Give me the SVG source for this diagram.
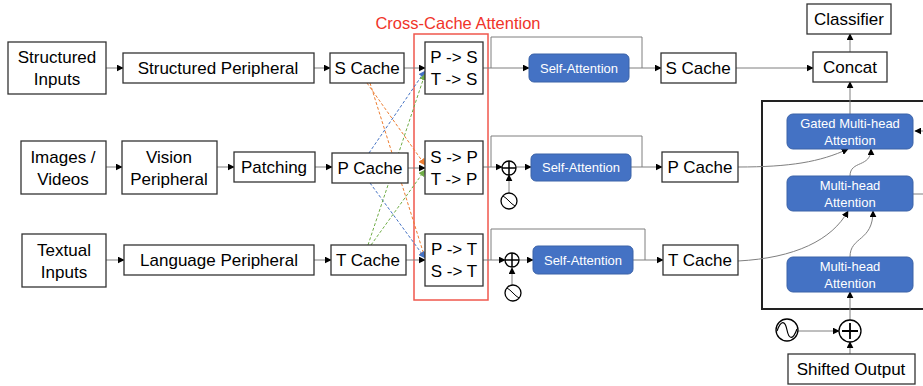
<svg xmlns="http://www.w3.org/2000/svg" width="923" height="386" viewBox="0 0 923 386">
<defs>
<marker id="ah" viewBox="0 0 10 10" refX="9" refY="5" markerWidth="7" markerHeight="7" orient="auto" markerUnits="userSpaceOnUse"><path d="M0,0 L10,5 L0,10 z" fill="#000"/></marker>
<marker id="aho" viewBox="0 0 10 10" refX="9" refY="5" markerWidth="7" markerHeight="7" orient="auto" markerUnits="userSpaceOnUse"><path d="M0,0 L10,5 L0,10 z" fill="#ED7D31"/></marker>
<marker id="ahb" viewBox="0 0 10 10" refX="9" refY="5" markerWidth="7" markerHeight="7" orient="auto" markerUnits="userSpaceOnUse"><path d="M0,0 L10,5 L0,10 z" fill="#4472C4"/></marker>
<marker id="ahg" viewBox="0 0 10 10" refX="9" refY="5" markerWidth="7" markerHeight="7" orient="auto" markerUnits="userSpaceOnUse"><path d="M0,0 L10,5 L0,10 z" fill="#70AD47"/></marker>
<style>
.box{fill:#fff;stroke:#333;stroke-width:1.3}
.sa{fill:#4472C4;stroke:#3A62A8;stroke-width:1}
.t{font-family:"Liberation Sans",Arial,sans-serif;font-size:17px;fill:#000;text-anchor:middle}
.tw{font-family:"Liberation Sans",Arial,sans-serif;font-size:13px;fill:#fff;text-anchor:middle}
.ln{fill:none;stroke:#7F7F7F;stroke-width:1}
.ar{fill:none;stroke:#7F7F7F;stroke-width:1;marker-end:url(#ah)}
.dso{fill:none;stroke:#ED7D31;stroke-width:1;stroke-dasharray:3,2;marker-end:url(#aho)}
.dsb{fill:none;stroke:#4472C4;stroke-width:1;stroke-dasharray:3,2;marker-end:url(#ahb)}
.dsg{fill:none;stroke:#70AD47;stroke-width:1;stroke-dasharray:3,2;marker-end:url(#ahg)}
.circ{fill:#fff;stroke:#000;stroke-width:1.3}
</style>
</defs>
<rect width="923" height="386" fill="#fff"/>

<g id="cross-cache-frame">
<rect x="414" y="34" width="74" height="266" fill="none" stroke="#F0574C" stroke-width="1.5"/>
<text x="458" y="29" font-family="Liberation Sans,Arial,sans-serif" font-size="16.5" fill="#F0342A" text-anchor="middle">Cross-Cache Attention</text>
</g>

<g id="decoder-frame">
<rect x="762" y="101" width="170" height="208" fill="none" stroke="#222" stroke-width="2"/>
</g>

<g id="connectors">
<path class="ar" d="M106,68 L123,68"/>
<path class="ar" d="M314,68 L330,68"/>
<path class="ar" d="M404,68 L425,68"/>
<path class="ar" d="M483,68 L529,68"/>
<path class="ln" d="M491,68 L491,37 L642,37 L642,68"/>
<path class="ar" d="M629,68 L661,68"/>
<path class="ar" d="M736,68 L813,68"/>
<path class="ar" d="M850,52 L850,34"/>
<path class="ar" d="M106,167 L122,167"/>
<path class="ar" d="M217,167 L234,167"/>
<path class="ar" d="M315,167 L332,167"/>
<path class="ar" d="M408,168 L425,168"/>
<path class="ar" d="M483,167 L502,167"/>
<path class="ln" d="M491,167 L491,136 L642,136 L642,167"/>
<path class="ar" d="M516,167 L531,167"/>
<path class="ar" d="M509,193 L509,175"/>
<path class="ar" d="M631,167 L662,167"/>
<path class="ar" d="M106,260 L124,260"/>
<path class="ar" d="M314,260 L331,260"/>
<path class="ar" d="M406,260 L425,260"/>
<path class="ar" d="M483,260 L505,260"/>
<path class="ln" d="M491,260 L491,229 L645,229 L645,260"/>
<path class="ar" d="M519,260 L533,260"/>
<path class="ar" d="M512,285 L512,268"/>
<path class="ar" d="M633,260 L663,260"/>
<path class="dso" d="M367,83 L425,165"/>
<path class="dso" d="M370,83 L425,258"/>
<path class="dsb" d="M369,153 L425,71"/>
<path class="dsb" d="M370,183 L425,258"/>
<path class="dsg" d="M368,245 L425,74"/>
<path class="dsg" d="M371,245 L425,170"/>
<path class="ar" d="M738,167 C790,167 820,162 848,149"/>
<path class="ar" d="M850,176 C850,160 871,168 871,149"/>
<path class="ar" d="M738,261 C795,258 832,240 848,211"/>
<path class="ar" d="M850,257 C850,236 873,242 873,211"/>
<path class="ar" d="M850,114 L850,82"/>
<path class="ar" d="M925,131 L915,131"/>
<path class="ln" d="M913,194 L925,194"/>
<path class="ar" d="M850,320 L850,292"/>
<path class="ar" d="M798,331 L839,331"/>
<path class="ar" d="M850,354 L850,342"/>
</g>

<g id="structured-inputs"><rect class="box" x="8" y="42" width="98" height="52"/><text class="t" x="57" y="63">Structured</text><text class="t" x="57" y="85">Inputs</text></g>
<g id="structured-peripheral"><rect class="box" x="123" y="53" width="191" height="30"/><text class="t" x="218" y="74">Structured Peripheral</text></g>
<g id="s-cache-in"><rect class="box" x="330" y="53" width="74" height="30"/><text class="t" x="367" y="74">S Cache</text></g>
<g id="cross-s"><rect class="box" x="425" y="42" width="58" height="52"/><text class="t" x="454" y="63">P -&gt; S</text><text class="t" x="454" y="85">T -&gt; S</text></g>
<g id="self-attn-s"><rect class="sa" x="529" y="54" width="100" height="28" rx="5"/><text class="tw" x="579" y="72.5">Self-Attention</text></g>
<g id="s-cache-out"><rect class="box" x="661" y="53" width="75" height="30"/><text class="t" x="698" y="74">S Cache</text></g>
<g id="concat"><rect class="box" x="813" y="52" width="74" height="30"/><text class="t" x="850" y="73">Concat</text></g>
<g id="classifier"><rect class="box" x="807" y="4" width="84" height="30"/><text class="t" x="849" y="25">Classifier</text></g>

<g id="images-videos"><rect class="box" x="21" y="141" width="85" height="53"/><text class="t" x="63" y="163">Images /</text><text class="t" x="63" y="185">Videos</text></g>
<g id="vision-peripheral"><rect class="box" x="122" y="141" width="95" height="53"/><text class="t" x="169" y="163">Vision</text><text class="t" x="169" y="185">Peripheral</text></g>
<g id="patching"><rect class="box" x="234" y="152" width="81" height="30"/><text class="t" x="274" y="173">Patching</text></g>
<g id="p-cache-in"><rect class="box" x="332" y="153" width="76" height="30"/><text class="t" x="370" y="174">P Cache</text></g>
<g id="cross-p"><rect class="box" x="425" y="141" width="58" height="53"/><text class="t" x="454" y="163">S -&gt; P</text><text class="t" x="454" y="185">T -&gt; P</text></g>
<g id="plus-p"><circle class="circ" cx="509" cy="168" r="7"/><path d="M502,168 H516 M509,161 V175" stroke="#000" stroke-width="1.5"/></g>
<g id="sine-p"><circle class="circ" cx="509" cy="201" r="8"/><path d="M503,196 C507,198 511,204 515,206" fill="none" stroke="#000" stroke-width="1"/></g>
<g id="self-attn-p"><rect class="sa" x="531" y="154" width="100" height="27" rx="5"/><text class="tw" x="581" y="172">Self-Attention</text></g>
<g id="p-cache-out"><rect class="box" x="662" y="152" width="76" height="30"/><text class="t" x="700" y="173">P Cache</text></g>

<g id="textual-inputs"><rect class="box" x="22" y="234" width="84" height="53"/><text class="t" x="64" y="256">Textual</text><text class="t" x="64" y="278">Inputs</text></g>
<g id="language-peripheral"><rect class="box" x="124" y="245" width="190" height="30"/><text class="t" x="219" y="266">Language Peripheral</text></g>
<g id="t-cache-in"><rect class="box" x="331" y="245" width="75" height="30"/><text class="t" x="368" y="266">T Cache</text></g>
<g id="cross-t"><rect class="box" x="425" y="234" width="58" height="52"/><text class="t" x="454" y="255">P -&gt; T</text><text class="t" x="454" y="277">S -&gt; T</text></g>
<g id="plus-t"><circle class="circ" cx="512" cy="260" r="7"/><path d="M505,260 H519 M512,253 V267" stroke="#000" stroke-width="1.5"/></g>
<g id="sine-t"><circle class="circ" cx="513" cy="293" r="8"/><path d="M507,288 C511,290 515,296 519,298" fill="none" stroke="#000" stroke-width="1"/></g>
<g id="self-attn-t"><rect class="sa" x="533" y="246" width="100" height="28" rx="5"/><text class="tw" x="583" y="264.5">Self-Attention</text></g>
<g id="t-cache-out"><rect class="box" x="663" y="245" width="75" height="30"/><text class="t" x="700" y="266">T Cache</text></g>

<g id="gated-mha"><rect class="sa" x="787" y="114" width="126" height="35" rx="6"/><text class="tw" x="850" y="128">Gated Multi-head</text><text class="tw" x="850" y="145">Attention</text></g>
<g id="mha-mid"><rect class="sa" x="787" y="176" width="126" height="35" rx="6"/><text class="tw" x="850" y="190">Multi-head</text><text class="tw" x="850" y="207">Attention</text></g>
<g id="mha-bottom"><rect class="sa" x="787" y="257" width="126" height="35" rx="6"/><text class="tw" x="850" y="271">Multi-head</text><text class="tw" x="850" y="288">Attention</text></g>
<g id="plus-out"><circle class="circ" cx="850" cy="331" r="11"/><path d="M842,331 H858 M850,323 V339" stroke="#000" stroke-width="1.8"/></g>
<g id="sine-out"><circle class="circ" cx="787" cy="330" r="11"/><path d="M777,331 C781,320 785,320 787,330 C789,340 793,340 797,329" fill="none" stroke="#000" stroke-width="1.2"/></g>
<g id="shifted-output"><rect class="box" x="788" y="354" width="127" height="30"/><text class="t" x="851" y="375">Shifted Output</text></g>
</svg>
